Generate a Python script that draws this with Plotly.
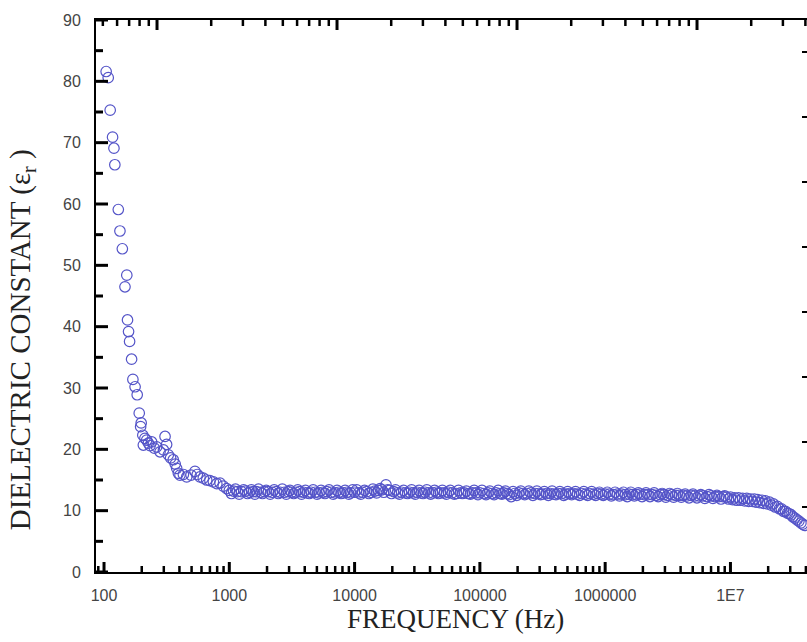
import math
import plotly.graph_objects as go

# ---------------- data ----------------
freq_low = [104, 108, 112, 117, 120, 122, 130, 134, 140, 147, 152, 154, 157, 160, 166,
            170, 177, 184, 191, 196, 198, 204, 206, 212, 219, 226, 233, 240, 252, 263,
            280, 298, 307, 316, 326, 340, 357, 370, 380, 392, 404, 430, 457, 495, 532,
            555, 583, 620, 660, 700, 746, 795, 843, 895, 953]
eps_low = [81.6, 80.6, 75.3, 70.9, 69.1, 66.4, 59.1, 55.6, 52.7, 46.5, 48.4, 41.1, 39.2, 37.6, 34.7,
           31.4, 30.2, 28.9, 25.9, 23.7, 24.3, 22.3, 20.7, 21.8, 21.5, 21.0, 20.6, 21.2, 20.2, 20.4,
           19.6, 19.9, 22.1, 20.8, 19.1, 18.6, 18.3, 17.6, 16.9, 16.1, 15.8, 15.9, 15.5, 15.8, 16.4,
           15.9, 15.5, 15.3, 15.0, 14.9, 14.7, 14.4, 14.5, 14.0, 13.6]

freq_d3 = [1000, 1080, 1160, 1250, 1350, 1450, 1550, 1650, 1780, 1900, 2050, 2200, 2370, 2550, 2750, 2950,
           3150, 3400, 3650, 3900, 4200, 4500, 4850, 5200, 5600, 6000, 6500, 7000, 7500, 8100, 8700, 9300]
eps_d3 = [13.3, 13.2, 13.1, 13.1, 13.2, 13.0, 13.1, 13.1, 13.0, 13.1, 13.1, 13.0, 13.1, 13.0, 13.0, 13.1,
          13.0, 13.0, 13.1, 13.0, 12.9, 13.0, 13.0, 12.9, 13.0, 13.1, 13.0, 12.9, 13.0, 12.9, 13.0, 12.9]
freq_d3b = [1040, 1120, 1200, 1300, 1400, 1500, 1600, 1710, 1840, 1970, 2120, 2280, 2460, 2650, 2850, 3050,
            3270, 3520, 3770, 4050, 4350, 4670, 5020, 5400, 5800, 6250, 6750, 7250, 7800, 8400, 9000, 9650]
eps_d3b = [12.8, 13.5, 12.7, 13.4, 12.8, 13.4, 12.7, 13.5, 12.8, 13.3, 12.7, 13.4, 12.8, 13.5, 12.7, 13.3,
           12.8, 13.4, 12.7, 13.3, 12.8, 13.4, 12.7, 13.3, 12.8, 13.4, 12.7, 13.3, 12.8, 13.3, 12.7, 13.4]

freq_d4 = [10000, 10800, 11600, 12500, 13500, 14500, 15500, 16500, 17800, 19000, 20500, 22000, 23700, 25500, 27500, 29500,
           31500, 34000, 36500, 39000, 42000, 45000, 48500, 52000, 56000, 60000, 65000, 70000, 75000, 81000, 87000, 93000]
eps_d4 = [13.0, 12.9, 13.0, 13.1, 13.0, 13.2, 13.3, 13.4, 14.2, 13.3, 13.1, 12.9, 13.0, 12.9, 13.0, 12.9,
          13.0, 12.9, 13.0, 12.9, 12.9, 13.0, 12.9, 12.9, 13.0, 12.9, 12.8, 12.9, 12.9, 12.8, 12.9, 12.9]
freq_d4b = [10400, 11200, 12000, 13000, 14000, 15000, 16000, 17100, 18400, 19700, 21200, 22800, 24600, 26500, 28500, 30500,
            32700, 35200, 37700, 40500, 43500, 46700, 50200, 54000, 58000, 62500, 67500, 72500, 78000, 84000, 90000, 96500]
eps_d4b = [13.4, 12.7, 13.3, 12.8, 13.5, 12.9, 13.6, 13.0, 13.4, 12.8, 13.4, 12.7, 13.3, 12.8, 13.4, 12.7,
           13.3, 12.8, 13.4, 12.7, 13.3, 12.8, 13.3, 12.7, 13.3, 12.7, 13.3, 12.8, 13.2, 12.7, 13.3, 12.6]

freq_d5 = [100000, 108000, 116000, 125000, 135000, 145000, 155000, 165000, 178000, 190000, 205000, 220000, 237000, 255000, 275000, 295000,
           315000, 340000, 365000, 390000, 420000, 450000, 485000, 520000, 560000, 600000, 650000, 700000, 750000, 810000, 870000, 930000]
eps_d5 = [12.9, 12.8, 12.9, 12.8, 12.9, 12.8, 12.9, 12.8, 12.3, 12.8, 12.9, 12.8, 12.8, 12.9, 12.8, 12.8,
          12.7, 12.8, 12.8, 12.7, 12.8, 12.8, 12.7, 12.8, 12.8, 12.7, 12.8, 12.7, 12.8, 12.7, 12.8, 12.7]
freq_d5b = [104000, 112000, 120000, 130000, 140000, 150000, 160000, 171000, 184000, 197000, 212000, 228000, 246000, 265000, 285000, 305000,
            327000, 352000, 377000, 405000, 435000, 467000, 502000, 540000, 580000, 625000, 675000, 725000, 780000, 840000, 900000, 965000]
eps_d5b = [13.3, 12.6, 13.2, 12.6, 13.3, 12.7, 13.2, 12.6, 13.1, 12.5, 13.2, 12.6, 13.2, 12.5, 13.2, 12.6,
           13.1, 12.5, 13.2, 12.6, 13.1, 12.5, 13.1, 12.6, 13.1, 12.5, 13.1, 12.5, 13.1, 12.5, 13.0, 12.5]

freq_d6 = [1000000, 1080000, 1160000, 1250000, 1350000, 1450000, 1550000, 1650000, 1780000, 1900000, 2050000, 2200000,
           2370000, 2550000, 2750000, 2950000, 3150000, 3400000, 3650000, 3900000, 4200000, 4500000, 4850000, 5200000,
           5600000, 6000000, 6500000, 7000000, 7500000, 8100000, 8700000, 9300000]
eps_d6 = [12.7, 12.7, 12.6, 12.7, 12.7, 12.6, 12.7, 12.6, 12.6, 12.7, 12.6, 12.6,
          12.6, 12.5, 12.6, 12.6, 12.5, 12.6, 12.5, 12.5, 12.5, 12.4, 12.5, 12.4,
          12.4, 12.4, 12.3, 12.4, 12.3, 12.3, 12.3, 12.2]
freq_d6b = [1040000, 1120000, 1200000, 1300000, 1400000, 1500000, 1600000, 1710000, 1840000, 1970000, 2120000, 2280000,
            2460000, 2650000, 2850000, 3050000, 3270000, 3520000, 3770000, 4050000, 4350000, 4670000, 5020000, 5400000,
            5800000, 6250000, 6750000, 7250000, 7800000, 8400000, 9000000, 9650000]
eps_d6b = [13.0, 12.4, 13.0, 12.4, 13.0, 12.3, 13.0, 12.4, 12.9, 12.3, 12.9, 12.3,
           12.9, 12.3, 12.8, 12.2, 12.8, 12.2, 12.8, 12.2, 12.7, 12.1, 12.7, 12.1,
           12.6, 12.0, 12.6, 12.0, 12.5, 11.9, 12.4, 11.9]

freq_d7 = [1.0e7, 1.04e7, 1.08e7, 1.12e7, 1.16e7, 1.2e7, 1.25e7, 1.3e7, 1.35e7, 1.4e7, 1.45e7, 1.5e7,
           1.55e7, 1.6e7, 1.65e7, 1.71e7, 1.78e7, 1.84e7, 1.9e7, 1.97e7, 2.05e7, 2.12e7, 2.2e7, 2.28e7,
           2.37e7, 2.46e7, 2.55e7, 2.65e7, 2.75e7, 2.85e7, 2.95e7, 3.05e7, 3.15e7, 3.27e7, 3.4e7, 3.52e7,
           3.65e7, 3.77e7, 3.9e7]
eps_d7 = [12.2, 11.8, 12.1, 11.7, 12.1, 11.7, 12.0, 11.6, 12.0, 11.5, 11.9, 11.5,
          11.9, 11.4, 11.8, 11.3, 11.7, 11.2, 11.6, 11.1, 11.4, 10.9, 11.1, 10.6,
          10.7, 10.3, 10.3, 9.9, 9.9, 9.6, 9.5, 9.3, 9.0, 8.8, 8.5, 8.3,
          8.0, 7.8, 7.6]

x_tickvals = [100, 1000, 10000, 100000, 1000000, 10000000]
x_ticktext = ["100", "1000", "10000", "100000", "1000000", "1E7"]
y_tickvals = [0, 10, 20, 30, 40, 50, 60, 70, 80, 90]
y_minor_vals = [5, 15, 25, 35, 45, 55, 65, 75, 85]

freq = freq_low + freq_d3 + freq_d3b + freq_d4 + freq_d4b + freq_d5 + freq_d5b + freq_d6 + freq_d6b + freq_d7
eps = eps_low + eps_d3 + eps_d3b + eps_d4 + eps_d4b + eps_d5 + eps_d5b + eps_d6 + eps_d6b + eps_d7

MARK = "rgb(84,84,200)"
TICKFONT = dict(family="Liberation Sans, Arial, sans-serif", size=16, color="#444")
TITLEFONT = dict(family="Liberation Serif, Times New Roman, serif", color="#222")

XRANGE = [1.936, 7.611]      # log10 range of the bottom axis
TOPRANGE = [-0.339, 3.611]   # log10 range of the (unlabelled) top axis
YRANGE = [0, 90]
PLOT_W, PLOT_H = 807 - 96, 642 - 20 - 70

fig = go.Figure()
fig.add_trace(go.Scatter(
    x=freq, y=eps, mode="markers",
    marker=dict(symbol="circle-open", size=10.5, color=MARK, line=dict(width=1.2, color=MARK)),
    showlegend=False, cliponaxis=True,
))
# invisible trace hosting the top/right decorative axes
fig.add_trace(go.Scatter(x=[1], y=[0], xaxis="x2", yaxis="y2", mode="markers",
                         marker=dict(opacity=0), showlegend=False, hoverinfo="skip"))

# ---- tick marks drawn as shapes placed through the axis scales (paper fractions) ----
shapes = []
TICKCOL = "#000000"


def xfrac(v, rng):
    return (math.log10(v) - rng[0]) / (rng[1] - rng[0])


def vtick(v, rng, length, width, top=False):
    f = xfrac(v, rng)
    if f < 0.002 or f > 1:
        return
    h = length / PLOT_H
    y0, y1 = (1 - h, 1) if top else (0, h)
    shapes.append(dict(type="line", xref="paper", yref="paper", x0=f, x1=f, y0=y0, y1=y1,
                       line=dict(color=TICKCOL, width=width), layer="above"))


def htick(v, length, width):
    f = (v - YRANGE[0]) / (YRANGE[1] - YRANGE[0])
    w = length / PLOT_W
    shapes.append(dict(type="line", xref="paper", yref="paper", x0=0, x1=w, y0=f, y1=f,
                       line=dict(color=TICKCOL, width=width), layer="above"))


for v in x_tickvals:
    vtick(v, XRANGE, 10, 3)
for d in range(1, 8):
    for m in range(2, 10):
        vtick(m * 10 ** d, XRANGE, 6, 2.5)
for d in range(-1, 4):
    vtick(10 ** d, TOPRANGE, 10, 3, top=True)
    for m in range(2, 10):
        vtick(m * 10 ** d, TOPRANGE, 6, 2.5, top=True)
for v in y_tickvals:
    htick(v, 12, 3)
for v in y_minor_vals:
    htick(v, 7, 3)

common_off = dict(showgrid=False, zeroline=False, showticklabels=False, tickcolor="black")

fig.update_layout(
    width=807, height=642,
    margin=dict(l=96, r=0, t=20, b=70),
    paper_bgcolor="white", plot_bgcolor="white",
    shapes=shapes,
    xaxis=dict(
        type="log", range=XRANGE,
        tickmode="array", tickvals=x_tickvals, ticktext=x_ticktext, ticks="",
        showline=True, linecolor="black", linewidth=2,
        showgrid=False, zeroline=False, tickfont=TICKFONT, ticklabelstandoff=8,
    ),
    yaxis=dict(
        range=YRANGE, tickmode="array", tickvals=y_tickvals, ticks="",
        showline=True, linecolor="black", linewidth=2,
        showgrid=False, zeroline=False, tickfont=TICKFONT, ticklabelstandoff=10,
    ),
    xaxis2=dict(
        type="log", range=TOPRANGE, overlaying="x", side="top", anchor="y2",
        ticks="", showline=True, linecolor="black", linewidth=2, **common_off,
    ),
    yaxis2=dict(
        range=[0, 8.49], overlaying="y", side="right", anchor="x2",
        dtick=1, ticks="inside", ticklen=5, tickwidth=2, showline=False, **common_off,
    ),
    annotations=[
        dict(text="FREQUENCY (Hz)", xref="paper", yref="paper", x=0.505, y=-0.085,
             xanchor="center", yanchor="middle", showarrow=False,
             font=dict(size=27, **TITLEFONT)),
        dict(text="DIELECTRIC CONSTANT (ε<sub>r</sub> )", xref="paper", yref="paper",
             x=-0.104, y=0.42, xanchor="center", yanchor="middle", textangle=-90,
             showarrow=False, font=dict(size=29, **TITLEFONT)),
    ],
)

fig.write_html("out.html")
